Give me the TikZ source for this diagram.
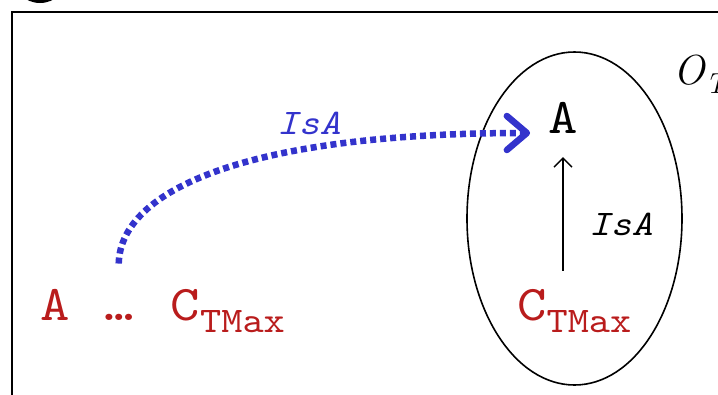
\documentclass[tikz,border=0pt]{standalone}
\usepackage{fontspec}
\newfontfamily\courfont[FakeStretch=1.12, ItalicFont=lmmono10-italic.otf]{lmmono10-regular.otf}
\usetikzlibrary{shapes.geometric,arrows.meta,positioning}
\definecolor{termred}{RGB}{185, 28, 28}
\definecolor{isablue}{RGB}{51, 51, 204}

\begin{document}
\begin{tikzpicture}[x=1pt, y=-1pt, >={Straight Barb[length=9pt,width=18pt]}]
    \useasboundingbox (0,0) rectangle (718,394);
    % slide frame and marker
    \fill (40,-25) circle (28);
    \draw [line width=2pt] (12,440) -- (12,12) -- (760,12);

    % target ontology
    \node [draw, ellipse, line width=1.6pt, minimum width=215pt, minimum height=333pt] (ontology) at (574.5,218.5) {};
    \node [anchor=base west, inner sep=0pt, font=\fontsize{42}{48}\selectfont] (otlabel) at (673,84) {\textit{O}\raisebox{-9pt}{\fontsize{29}{32}\selectfont\textit{T}}};
    \node [anchor=base, inner sep=0pt, font=\courfont\fontsize{50}{56}\selectfont] (topA) at (563,133) {A};
    \node [anchor=base west, inner sep=0pt, text=termred, font=\courfont\fontsize{50}{56}\selectfont] (innerC) at (517,320) {C\raisebox{-12pt}{\fontsize{36}{38}\selectfont TMax}};

    % source terms
    \node [anchor=base west, inner sep=0pt, text=termred, font=\courfont\fontsize{50}{56}\selectfont] (redA) at (40,320) {A};
    \node [base right=34pt of redA, inner sep=0pt, text=termred, font=\courfont\fontsize{50}{56}\selectfont] (dots) {…};
    \node [base right=37pt of dots, inner sep=0pt, text=termred, font=\courfont\fontsize{50}{56}\selectfont] (redC) {C\raisebox{-12pt}{\fontsize{36}{38}\selectfont TMax}};

    \draw [->, line width=1.3pt, shorten <=18pt, shorten >=24pt] (innerC.north -| topA.south) -- (topA.south);
    \node [anchor=base west, inner sep=0pt, font=\courfont\itshape\fontsize{36}{40}\selectfont] (innerisa) at (589,235) {IsA};

    \draw [->, isablue, line width=6.5pt, dash pattern=on 6pt off 4pt, shorten >=18pt, >={Straight Barb[length=20pt,width=34pt,line cap=round,line join=round]}] ([yshift=50pt]dots.north) .. controls +(2,-75) and +(-298,0) .. (topA.base west);
    \node [anchor=base west, inner sep=0pt, text=isablue, font=\courfont\itshape\fontsize{36}{40}\selectfont] (mapisa) at (277,134) {IsA};
\end{tikzpicture}
\end{document}
